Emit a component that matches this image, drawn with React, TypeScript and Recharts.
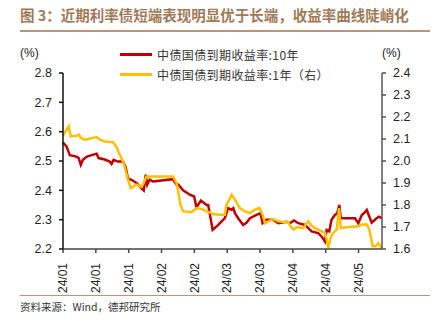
import { LineChart, Line, XAxis, YAxis } from 'recharts';

// day offsets from 2024-01-02
const tenYearDays = [
  0, 1.5, 2.9, 5.7, 6.7, 7.6, 8.5, 10.2, 14.3, 15.2, 17.8, 19.9, 20.7, 21.6, 23.3, 25.6, 26.7, 27.7, 29.2, 31.3,
  33.5, 34.4, 35.3, 35.9, 37, 38.4, 46.9, 48.4, 49.1, 51.2, 54.1, 55.9, 56.9, 58.8, 61.2, 61.9, 63.8, 66.2, 66.9, 69,
  70.4, 71.9, 72.6, 73.3, 74.7, 76.8, 78.3, 79.7, 82.5, 84.2, 85.1, 86.8, 89.6, 91.8, 95.3, 96.8, 98.5, 100.3, 103.2, 106,
  108.8, 110.3, 111.7, 112.4, 113.5, 114.5, 115.9, 116.9, 117.8, 118.4, 121, 124.5, 125.9, 127.4, 128.3, 129.5, 131.6, 133.7, 134.7, 135.9,
];
const tenYearYield = [
  2.563, 2.55, 2.52, 2.515, 2.51, 2.487, 2.504, 2.515, 2.525, 2.51, 2.505, 2.498, 2.49, 2.504, 2.498, 2.498, 2.479, 2.44, 2.436, 2.425,
  2.407, 2.4, 2.453, 2.419, 2.436, 2.43, 2.438, 2.42, 2.42, 2.4, 2.385, 2.379, 2.342, 2.365, 2.35, 2.35, 2.265, 2.282, 2.288, 2.305,
  2.339, 2.334, 2.339, 2.322, 2.305, 2.282, 2.29, 2.305, 2.316, 2.322, 2.288, 2.3, 2.3, 2.288, 2.293, 2.288, 2.297, 2.288, 2.282, 2.26,
  2.254, 2.242, 2.225, 2.265, 2.26, 2.3, 2.316, 2.322, 2.35, 2.305, 2.305, 2.305, 2.288, 2.316, 2.322, 2.333, 2.29, 2.305, 2.31, 2.305,
];

const oneYearDays = [
  0, 1.5, 2.4, 3.3, 5.7, 6.8, 7.6, 9.3, 10.7, 14.3, 15.7, 17.8, 21.3, 22.8, 24.2, 25.9, 27.7, 28.9, 31.3, 33.5,
  34.4, 35.6, 37.3, 46.9, 48.4, 48.7, 50.1, 51.2, 54.8, 56.9, 59.1, 61.2, 62.6, 64, 66.9, 69, 69.7, 71.9, 73.3, 75.4,
  77.5, 79.7, 81.8, 83.7, 85.1, 86.1, 87.5, 89.6, 91.8, 93.9, 96, 97, 98.2, 99.6, 102.4, 104.6, 106, 108.1, 110.3, 111.7,
  112.4, 113.1, 114.1, 115.2, 116.7, 117.7, 118.4, 122, 125.9, 127.4, 129.5, 130.6, 132, 133.4, 134.4, 135.9,
];
const oneYearYield = [
  2.115, 2.142, 2.157, 2.112, 2.115, 2.12, 2.105, 2.097, 2.1, 2.109, 2.097, 2.089, 2.085, 2.064, 2.029, 1.99, 1.915, 1.877, 1.892, 1.882,
  1.9, 1.93, 1.93, 1.93, 1.9, 1.885, 1.8, 1.771, 1.768, 1.786, 1.782, 1.771, 1.766, 1.759, 1.756, 1.756, 1.801, 1.847, 1.824, 1.786,
  1.771, 1.764, 1.779, 1.786, 1.756, 1.718, 1.726, 1.736, 1.726, 1.723, 1.723, 1.703, 1.688, 1.7, 1.695, 1.726, 1.706, 1.691, 1.68, 1.673,
  1.645, 1.605, 1.65, 1.673, 1.688, 1.786, 1.695, 1.7, 1.703, 1.711, 1.711, 1.688, 1.612, 1.612, 1.627, 1.605,
];

const xTicks = [0, 14, 28, 42, 56, 70, 84, 98, 112, 126];
const xTickLabels = ['24/01', '24/01', '24/01', '24/02', '24/02', '24/03', '24/03', '24/04', '24/04', '24/05'];
const leftTicks = [2.2, 2.3, 2.4, 2.5, 2.6, 2.7, 2.8];
const rightTicks = [1.6, 1.7, 1.8, 1.9, 2.0, 2.1, 2.2, 2.3, 2.4];

const tenYearData = tenYearDays.map((d, i) => ({ d, v: tenYearYield[i] }));
const oneYearData = oneYearDays.map((d, i) => ({ d, v: oneYearYield[i] }));

const RED = '#C00000';
const YELLOW = '#FFC000';
const BROWN = '#A07A58';
const NUM_FONT = '"Liberation Sans", Arial, sans-serif';
const CJK_FONT = '"Noto Sans CJK SC", sans-serif';

function DateTick(props: any) {
  const { x, y, payload } = props;
  const idx = xTicks.indexOf(payload.value);
  return (
    <text
      x={x}
      y={y + 8}
      transform={`rotate(-90, ${x}, ${y + 8})`}
      textAnchor="end"
      dy="0.35em"
      fontSize={12}
      fontFamily={NUM_FONT}
      fill="#222"
    >
      {xTickLabels[idx]}
    </text>
  );
}

export default function App() {
  const legendRow = (color: string, label: string, top: number) => (
    <div style={{ position: 'absolute', left: 120, top, display: 'flex', alignItems: 'center' }}>
      <div style={{ width: 32, height: 3, background: color }} />
      <span style={{ marginLeft: 5, fontSize: 12, letterSpacing: 0.4, color: '#333', fontFamily: CJK_FONT }}>{label}</span>
    </div>
  );

  return (
    <div style={{ position: 'absolute', left: 0, top: 0, width: 437, height: 323, background: '#fff', fontFamily: CJK_FONT }}>
      <div style={{ position: 'absolute', left: 20, top: 5, fontSize: 14.5, fontWeight: 700, color: BROWN, whiteSpace: 'nowrap', lineHeight: '20px' }}>
        图 3：近期利率债短端表现明显优于长端，收益率曲线陡峭化
      </div>
      <div style={{ position: 'absolute', left: 20, top: 30, width: 410, height: 1.5, background: '#B8967A' }} />

      <LineChart width={437} height={323} margin={{ top: 73, right: 0, bottom: 24, left: 0 }}>
        <XAxis
          dataKey="d"
          type="number"
          domain={[0, 136]}
          ticks={xTicks}
          tick={<DateTick />}
          tickSize={4}
          height={50}
          stroke="#444"
          strokeWidth={1.5}
          allowDuplicatedCategory={false}
        />
        <YAxis
          yAxisId="left"
          orientation="left"
          domain={[2.2, 2.8]}
          ticks={leftTicks}
          tickFormatter={(v: number) => v.toFixed(1)}
          width={63}
          tickSize={4}
          tickMargin={7}
          stroke="#111"
          strokeWidth={1.5}
          tick={{ fontSize: 12.5, fontFamily: NUM_FONT, fill: '#222' }}
        />
        <YAxis
          yAxisId="right"
          orientation="right"
          domain={[1.6, 2.4]}
          ticks={rightTicks}
          tickFormatter={(v: number) => v.toFixed(1)}
          width={55}
          tickSize={4}
          tickMargin={7}
          stroke="#555"
          strokeWidth={1.5}
          tick={{ fontSize: 12.5, fontFamily: NUM_FONT, fill: '#222' }}
        />
        <Line
          yAxisId="left"
          data={tenYearData}
          dataKey="v"
          stroke={RED}
          strokeWidth={2.5}
          dot={false}
          type="linear"
          isAnimationActive={false}
        />
        <Line
          yAxisId="right"
          data={oneYearData}
          dataKey="v"
          stroke={YELLOW}
          strokeWidth={2.5}
          dot={false}
          type="linear"
          isAnimationActive={false}
        />
      </LineChart>

      <div style={{ position: 'absolute', left: 20, top: 46, fontSize: 12, fontFamily: NUM_FONT, color: '#222' }}>(%)</div>
      <div style={{ position: 'absolute', left: 382, top: 46, fontSize: 12, fontFamily: NUM_FONT, color: '#222' }}>(%)</div>

      {legendRow(RED, '中债国债到期收益率:10年', 46)}
      {legendRow(YELLOW, '中债国债到期收益率:1年（右）', 66)}

      <div style={{ position: 'absolute', left: 20, top: 294.5, width: 410, height: 1.5, background: '#B8967A' }} />
      <div style={{ position: 'absolute', left: 20, top: 299, fontSize: 10.5, color: '#333', lineHeight: '16px', whiteSpace: 'nowrap' }}>
        资料来源：Wind，德邦研究所
      </div>
    </div>
  );
}
